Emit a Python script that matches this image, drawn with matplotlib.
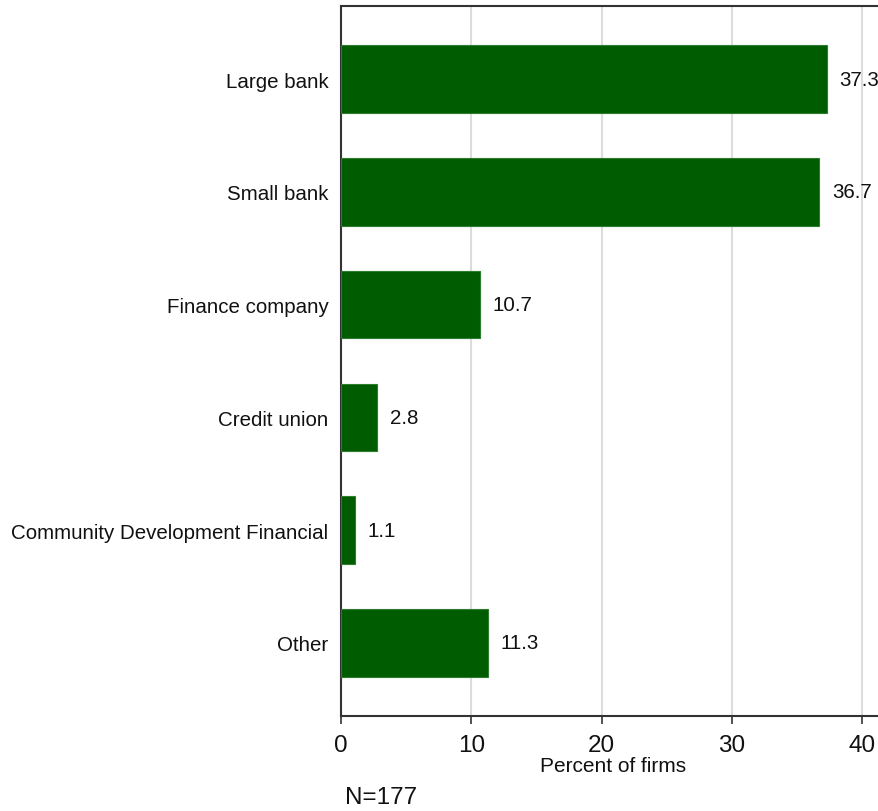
import matplotlib
matplotlib.use('Agg')
import matplotlib.pyplot as plt

# datos
categorias = ["Large bank", "Small bank", "Finance company", "Credit union",
              "Community Development Financial", "Other"]
porcentajes = [37.3, 36.7, 10.7, 2.8, 1.1, 11.3]
ticks_x = [0, 10, 20, 30, 40]
nota = "N=177"

plt.rcParams['font.family'] = ['Liberation Sans', 'DejaVu Sans']

fig = plt.figure(figsize=(8.79, 8.12), dpi=100)
ax = fig.add_axes([341 / 879, 1 - 717 / 812, 42 * 13.03 / 879, 710 / 812])

pos = list(range(len(categorias)))
ax.barh(pos, porcentajes, height=0.6, color='#005c00', edgecolor='#2e7d2e',
        linewidth=0.8, zorder=3)

for p, v in zip(pos, porcentajes):
    ax.annotate(f"{v:.1f}", (v, p), xytext=(9, 0), textcoords='offset points',
                va='center', ha='left', fontsize=14.8, color='#111111')

ax.set_xlim(0, 42)
ax.set_ylim(5.65, -0.65)
ax.set_yticks(pos)
ax.set_yticklabels(categorias, fontsize=14.8, color='#111111')
ax.tick_params(axis='y', length=0, pad=9)
ax.set_xticks(ticks_x)
ax.set_xticklabels([str(t) for t in ticks_x], fontsize=17.5, color='#111111')
ax.tick_params(axis='x', length=6, width=1.2, color='#333333', pad=7)

ax.grid(axis='x', color='#dcdcdc', linewidth=1.5, zorder=0)
ax.set_axisbelow(True)
for s in ['left', 'bottom', 'top']:
    ax.spines[s].set_color('#333333')
    ax.spines[s].set_linewidth(1.5)
ax.spines['right'].set_visible(False)

fig.text(613 / 879, 1 - 767 / 812, "Percent of firms", ha='center', va='center',
         fontsize=15, color='#111111')
fig.text(345 / 879, 1 - 798 / 812, nota, ha='left', va='center',
         fontsize=17.5, color='#111111')

fig.savefig("out.png", dpi=100)
